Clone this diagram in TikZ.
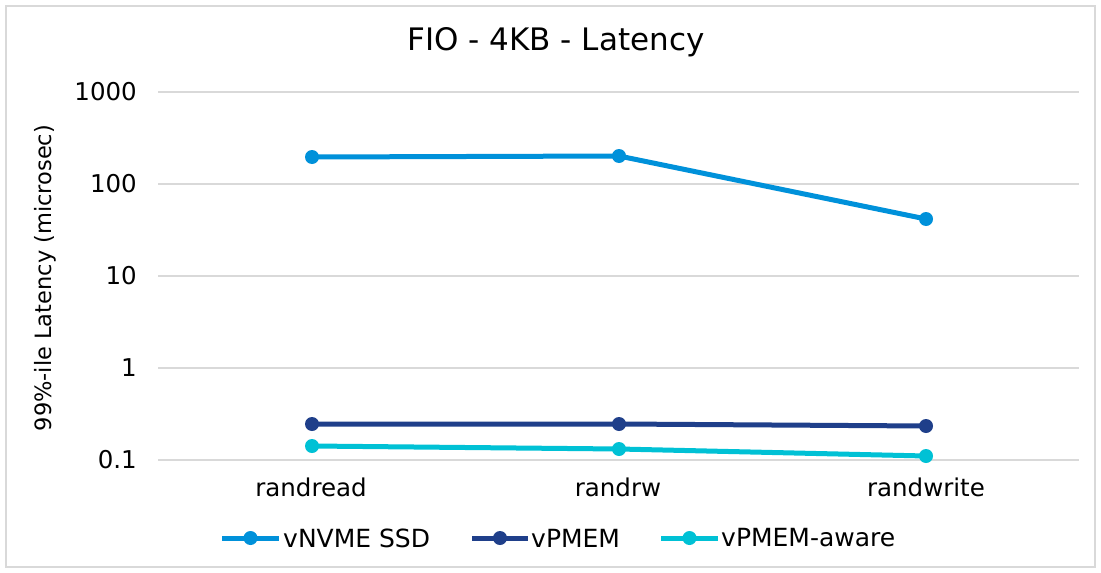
\documentclass[tikz,border=0pt]{standalone}
\usepackage{fontspec}
\setmainfont{DejaVu Sans}
\usetikzlibrary{calc}
\definecolor{cssd}{HTML}{0091DA}
\definecolor{cpm}{HTML}{1F3F8A}
\definecolor{caw}{HTML}{00C1D5}
\definecolor{cgrid}{HTML}{D9D9D9}
\begin{document}
\begin{tikzpicture}[x=1pt,y=-1pt,
  gridline/.style={cgrid,line width=1.5pt},
  series/.style={line width=5pt},
  dot/.style={circle,fill,inner sep=0pt,minimum size=14pt},
  ticklab/.style={anchor=east,font=\fontsize{24.5}{28}\selectfont,inner sep=0pt},
  catlab/.style={anchor=center,font=\fontsize{24.5}{28}\selectfont,inner sep=0pt},
  leglab/.style={anchor=west,font=\fontsize{25}{28}\selectfont,inner sep=0pt}]
\useasboundingbox (0,0) rectangle (1101,573);
\fill[white] (0,0) rectangle (1101,573);
\draw[cgrid,line width=1.5pt] (6,6) rectangle (1095,567);
% title
\node[font=\fontsize{31}{34}\selectfont,inner sep=0pt] (title) at (556,42) {FIO - 4KB - Latency};
% grid
\foreach \yy/\lab in {92/1000,184/100,276/10,368/1,460/0.1}{
  \draw[gridline] (158,\yy) -- (1079,\yy);
  \node[ticklab] at (137,\yy) {\lab};
}
% axis title
\node[rotate=90,font=\fontsize{22.5}{26}\selectfont,inner sep=0pt] (ytitle) at (45,278) {99\%-ile Latency (microsec)};
% categories
\node[catlab] (c1) at (311,487) {randread};
\node[catlab] (c2) at (618,487) {randrw};
\node[catlab] (c3) at (926,487) {randwrite};
% series
\coordinate (s1) at (312,157);
\coordinate (s2) at (619,156);
\coordinate (s3) at (926,219);
\coordinate (p1) at (312,424);
\coordinate (p2) at (619,424);
\coordinate (p3) at (926,426);
\coordinate (a1) at (312,446);
\coordinate (a2) at (619,449);
\coordinate (a3) at (926,456);
\draw[series,cssd] (s1) -- (s2) -- (s3);
\draw[series,cpm] (p1) -- (p2) -- (p3);
\draw[series,caw] (a1) -- (a2) -- (a3);
\foreach \n in {s1,s2,s3}{\node[dot,fill=cssd] at (\n) {};}
\foreach \n in {p1,p2,p3}{\node[dot,fill=cpm] at (\n) {};}
\foreach \n in {a1,a2,a3}{\node[dot,fill=caw] at (\n) {};}
% legend
\coordinate (l1a) at (222,538); \coordinate (l1b) at (279,538);
\coordinate (l2a) at (472,538); \coordinate (l2b) at (528,538);
\coordinate (l3a) at (661,538); \coordinate (l3b) at (718,538);
\draw[series,cssd] (l1a) -- (l1b);
\draw[series,cpm] (l2a) -- (l2b);
\draw[series,caw] (l3a) -- (l3b);
\node[dot,fill=cssd] at ($(l1a)!0.5!(l1b)$) {};
\node[dot,fill=cpm] at ($(l2a)!0.5!(l2b)$) {};
\node[dot,fill=caw] at ($(l3a)!0.5!(l3b)$) {};
\node[leglab] (t1) at (283,538) {vNVME SSD};
\node[leglab] (t2) at (531,538) {vPMEM};
\node[leglab] (t3) at (721,538) {vPMEM-aware};
\end{tikzpicture}
\end{document}
